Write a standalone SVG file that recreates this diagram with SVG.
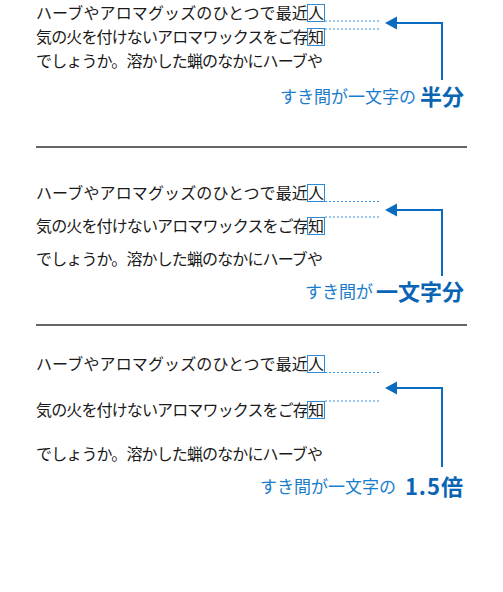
<svg xmlns="http://www.w3.org/2000/svg" width="503" height="592" viewBox="0 0 503 592">
<defs>
<style>
.body{font-family:"Noto Sans CJK JP","Noto Sans CJK SC",sans-serif;font-size:16px;fill:#1a1a1a;}
.lab{font-family:"Noto Sans CJK JP","Noto Sans CJK SC",sans-serif;font-size:17px;fill:#1a7ccc;}
.big{font-family:"Noto Sans CJK JP","Noto Sans CJK SC",sans-serif;font-size:22px;font-weight:bold;fill:#0a64b4;}
.box{fill:none;stroke:#2f8ad6;stroke-width:1;}
.dot{stroke:#3a8fd6;stroke-width:1;stroke-dasharray:2 2;fill:none;}
.arr{stroke:#0a6cc0;stroke-width:2;fill:none;}
.head{fill:#0a6cc0;}
.sep{stroke:#333;stroke-width:1.5;}
</style>
</defs>
<rect width="503" height="592" fill="#fff"/>

<g id="section1">
<text class="body" x="36" y="19" textLength="288" lengthAdjust="spacing">ハーブやアロマグッズのひとつで最近人</text>
<text class="body" x="36" y="43" textLength="288" lengthAdjust="spacing">気の火を付けないアロマワックスをご存知</text>
<text class="body" x="36" y="67" textLength="287" lengthAdjust="spacing">でしょうか。溶かした蝋のなかにハーブや</text>
<rect class="box" x="307.5" y="4.5" width="17" height="17"/>
<rect class="box" x="307.5" y="28.5" width="17" height="17"/>
<text class="lab" x="416" y="103" text-anchor="end">すき間が一文字の</text>
<text class="big" x="464" y="105" text-anchor="end">半分</text>
</g>

<line id="sep1" class="sep" x1="36" y1="147" x2="467" y2="147"/>

<g id="section2">
<text class="body" x="36" y="199" textLength="288" lengthAdjust="spacing">ハーブやアロマグッズのひとつで最近人</text>
<text class="body" x="36" y="232" textLength="288" lengthAdjust="spacing">気の火を付けないアロマワックスをご存知</text>
<text class="body" x="36" y="265" textLength="287" lengthAdjust="spacing">でしょうか。溶かした蝋のなかにハーブや</text>
<rect class="box" x="307.5" y="184.5" width="17" height="17"/>
<rect class="box" x="307.5" y="217.5" width="17" height="17"/>
<text class="lab" x="373" y="298" text-anchor="end">すき間が</text>
<text class="big" x="464" y="300" text-anchor="end">一文字分</text>
</g>

<line id="sep2" class="sep" x1="36" y1="325" x2="467" y2="325"/>

<g id="section3">
<text class="body" x="36" y="370" textLength="288" lengthAdjust="spacing">ハーブやアロマグッズのひとつで最近人</text>
<text class="body" x="36" y="416" textLength="288" lengthAdjust="spacing">気の火を付けないアロマワックスをご存知</text>
<text class="body" x="36" y="460" textLength="287" lengthAdjust="spacing">でしょうか。溶かした蝋のなかにハーブや</text>
<rect class="box" x="307.5" y="355.5" width="17" height="17"/>
<rect class="box" x="307.5" y="401.5" width="17" height="17"/>
<text class="lab" x="396" y="493" text-anchor="end">すき間が一文字の</text>
<text class="big" x="464" y="495" text-anchor="end" letter-spacing="1">1.5倍</text>
</g>

<g id="connectors">
<line class="dot" x1="325" y1="21" x2="381" y2="21"/>
<line class="dot" x1="325" y1="29" x2="381" y2="29"/>
<polyline class="arr" points="395,23 442,23 442,80"/>
<polygon class="head" points="385,23 397,16.5 397,29.5"/>

<line class="dot" x1="325" y1="201.5" x2="381" y2="201.5"/>
<line class="dot" x1="325" y1="217" x2="381" y2="217"/>
<polyline class="arr" points="395,210 442,210 442,276"/>
<polygon class="head" points="385,210 397,203.5 397,216.5"/>

<line class="dot" x1="325" y1="372.5" x2="381" y2="372.5"/>
<line class="dot" x1="325" y1="401" x2="381" y2="401"/>
<polyline class="arr" points="395,388 442,388 442,467"/>
<polygon class="head" points="385,388 397,381.5 397,394.5"/>
</g>
</svg>
